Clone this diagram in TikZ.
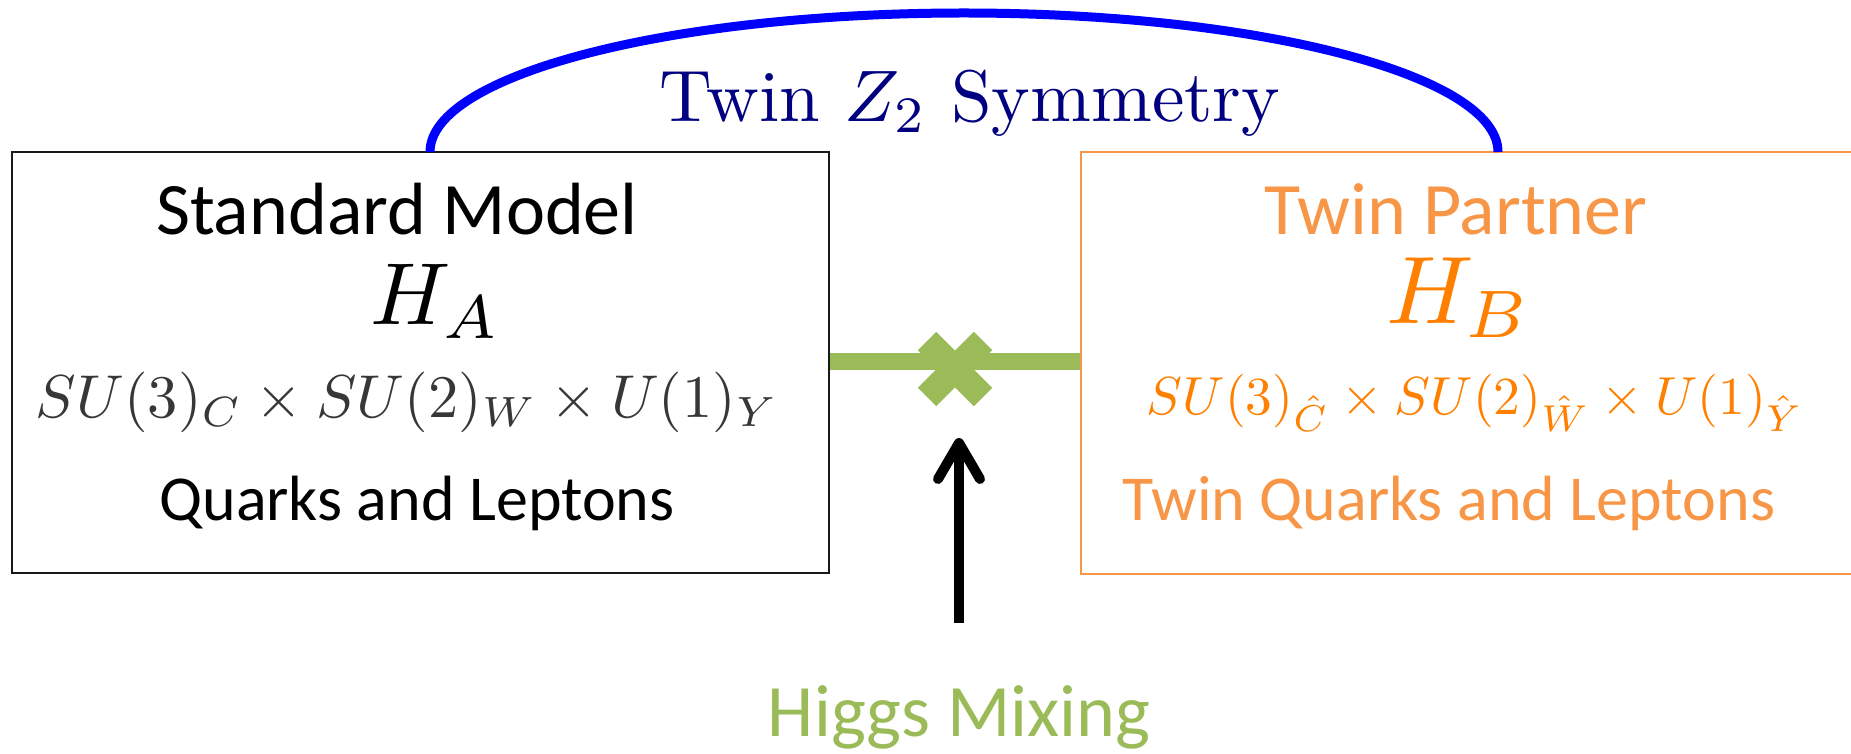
\documentclass[tikz,border=0pt]{standalone}
\usepackage{amsmath}
\usepackage{fontspec}
\newfontfamily\calibri{Carlito}
\usetikzlibrary{arrows.meta}
\usepackage{xcolor}

\definecolor{symnavy}{RGB}{0,0,128}
\definecolor{symblue}{RGB}{0,0,255}
\definecolor{twinorange}{RGB}{247,150,70}
\definecolor{twinmath}{RGB}{255,128,0}
\definecolor{higgsgreen}{RGB}{155,187,89}
\definecolor{smgray}{RGB}{55,55,55}

\tikzset{
  smbox/.style={draw=black!90, line width=1.6pt},
  twbox/.style={draw=twinorange, line width=2pt},
  label big/.style={anchor=base, font=\calibri\fontsize{74}{80}\selectfont},
  label small/.style={anchor=base, font=\calibri\fontsize{64}{70}\selectfont},
  math label/.style={anchor=base, font=\fontsize{10}{12}\selectfont, scale=#1},
}

\begin{document}
\begin{tikzpicture}[x=1pt, y=1pt, >={Straight Barb[length=36pt,width=42pt,round]}]
  \useasboundingbox (0,0) rectangle (1851,753);
  %% Sector boxes
  \node[smbox, minimum width=817pt, minimum height=421pt] (sm) at (420.5,390.5) {};
  \node[twbox, minimum width=820pt, minimum height=422pt] (tw) at (1491,390) {};
  %% Standard Model sector
  \node[label big] (smname) at (397,518) {Standard Model};
  \node[math label=8.8] (ha) at (436,428) {$H_A$};
  \node[math label=6.05, text=smgray] (smgroup) at (407,336)
    {$SU(3)_C\times SU(2)_W\times U(1)_Y$};
  \node[label small] (smmatter) at (417,233) {Quarks and Leptons};
  %% Twin sector
  \node[label big, text=twinorange] (twname) at (1456,518) {Twin Partner};
  \node[math label=9.6, text=twinmath] (hb) at (1459,430) {$H_B$};
  \node[math label=5.35, text=twinmath] (twgroup) at (1475,339)
    {$SU(3)_{\hat{C}}\times SU(2)_{\hat{W}}\times U(1)_{\hat{Y}}$};
  \node[label small, text=twinorange] (twmatter) at (1449,233) {Twin Quarks and Leptons};
  %% Twin Z2 arc
  \coordinate (symL) at (430,601);
  \draw[symblue, line width=9pt] (symL) arc[start angle=180, end angle=0, x radius=534pt, y radius=139pt];
  \node[math label=7.3, text=symnavy] (symtext) at (970,631) {Twin $Z_2$ Symmetry};
  %% Higgs portal
  \coordinate (mix) at (955,384);
  \draw[higgsgreen, line width=17pt] (sm.east |- 0,391) -- (tw.west |- 0,391);
  \draw[higgsgreen, line width=26pt] ([shift={(-28,-28)}]mix) -- ([shift={(28,28)}]mix);
  \draw[higgsgreen, line width=26pt] ([shift={(-28,28)}]mix) -- ([shift={(28,-28)}]mix);
  \coordinate (arrtail) at (959,130);
  \coordinate (arrtip) at (959,315);
  \draw[->, line width=10pt] (arrtail) -- (arrtip);
  \node[label big, text=higgsgreen] (higgs) at (959,17) {Higgs Mixing};
\end{tikzpicture}
\end{document}
